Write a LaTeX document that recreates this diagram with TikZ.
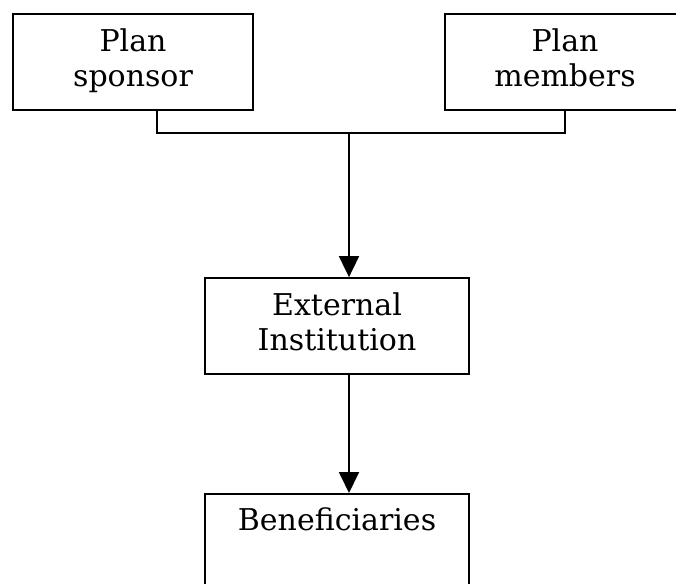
\documentclass[tikz,border=0pt]{standalone}
\usepackage{fontspec}
\setmainfont{DejaVu Serif}
\usetikzlibrary{arrows.meta}
\begin{document}
\begin{tikzpicture}[x=1pt,y=-1pt,
  box/.style={draw, line width=1.8pt, rectangle, inner sep=0pt, align=center,
    text depth=9pt, font=\fontsize{30}{35}\selectfont},
  link/.style={line width=1.8pt},
  flow/.style={line width=1.8pt, -{Triangle[width=20pt,length=21pt]}}]
\useasboundingbox (0,0) rectangle (676,583);
% parties
\node[box, minimum width=240, minimum height=96] (spon) at (133,62) {Plan\\sponsor};
\node[box, minimum width=240, minimum height=96] (memb) at (565,62) {Plan\\members};
\node[box, minimum width=264, minimum height=96] (ext) at (337,326) {External\\Institution};
\node[box, minimum width=264, minimum height=150, anchor=north] (ben) at (337,493) {};
\node[anchor=north, inner sep=0pt, font=\fontsize{30}{35}\selectfont] (bentext) at ([yshift=-14]ben.north) {Beneficiaries};
% joining line
\coordinate (sj) at (157,133);
\coordinate (mj) at (565,133);
\coordinate (j) at (349,133);
\draw[link] (spon.south -| sj) -- (sj) -- (mj) -- (memb.south);
\draw[flow] (j) -- (ext.north -| j);
\draw[flow] (ext.south -| j) -- (ben.north -| j);
\end{tikzpicture}
\end{document}
